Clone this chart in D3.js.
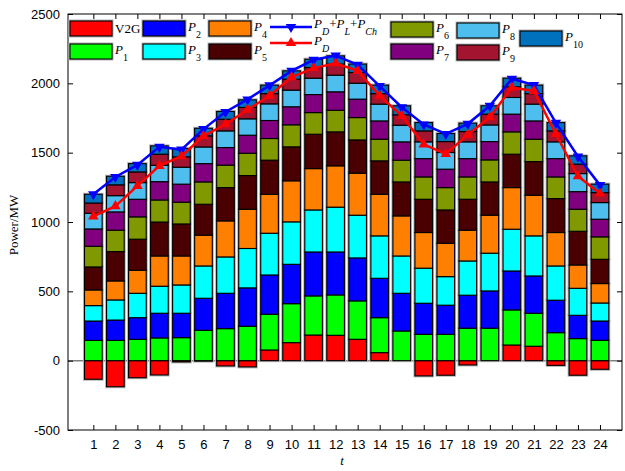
<!DOCTYPE html>
<meta charset="utf-8">
<style>
body { margin: 0; background: #fff; }
svg text { font-family: "Liberation Serif", "Times New Roman", serif; }
.axis text { font-family: "Liberation Sans", Arial, sans-serif; font-size: 13px; fill: #000; }
.axis line { stroke: #000; }
</style>
<svg width="625" height="471"></svg>
<script src="https://d3js.org/d3.v7.min.js"></script>
<script>

var hours = [1, 2, 3, 4, 5, 6, 7, 8, 9, 10, 11, 12, 13, 14, 15, 16, 17, 18, 19, 20, 21, 22, 23, 24];

// V2G exchange (negative = charging)
var v2g = [-134, -188, -123, -103, -9, -3, -38, -45, 77, 130, 185, 183, 154, 58, 0, -110, -105, -31, 0, 113, 104, -34, -105, -62];
var p1  = [146, 146, 154, 164, 166, 219, 231, 248, 258, 281, 282, 291, 277, 252, 214, 190, 190, 234, 234, 253, 238, 202, 159, 147];
var p2  = [140, 147, 156, 178, 176, 231, 255, 277, 283, 284, 317, 310, 310, 284, 272, 224, 210, 238, 269, 281, 269, 234, 168, 139];
var p3  = [111, 145, 176, 195, 204, 233, 262, 284, 301, 306, 303, 323, 308, 306, 269, 253, 206, 247, 272, 301, 289, 247, 195, 130];
var p4  = [113, 137, 166, 218, 209, 222, 260, 283, 281, 296, 298, 298, 303, 300, 289, 257, 241, 222, 274, 300, 293, 241, 168, 140];
var p5  = [166, 212, 224, 245, 231, 223, 240, 243, 246, 245, 248, 245, 240, 241, 245, 240, 240, 223, 240, 241, 243, 245, 243, 175];
var p6  = [149, 154, 161, 159, 157, 161, 162, 161, 156, 159, 156, 156, 161, 156, 157, 161, 161, 161, 159, 161, 161, 156, 159, 162];
var p7  = [125, 132, 127, 132, 130, 132, 127, 130, 130, 130, 130, 133, 133, 132, 132, 132, 133, 132, 132, 128, 132, 132, 127, 127];
var p8  = [113, 117, 120, 118, 122, 120, 120, 118, 120, 120, 118, 120, 115, 121, 120, 121, 120, 121, 120, 120, 121, 121, 130, 120];
var p9  = [74, 78, 77, 80, 75, 80, 84, 82, 74, 79, 77, 80, 77, 76, 75, 79, 79, 74, 78, 77, 76, 79, 68, 72];
var p10 = [63, 62, 60, 60, 60, 55, 56, 55, 61, 60, 60, 59, 61, 61, 65, 60, 58, 61, 60, 62, 61, 60, 60, 61];

var loadTotal = [1200, 1325, 1412, 1542, 1522, 1670, 1793, 1884, 1985, 2090, 2170, 2200, 2133, 1980, 1828, 1703, 1635, 1708, 1838, 2033, 1988, 1715, 1472, 1266];
var loadD     = [1040, 1114, 1260, 1405, 1475, 1620, 1705, 1810, 1910, 2045, 2110, 2145, 2090, 1910, 1765, 1560, 1490, 1630, 1755, 1970, 1945, 1635, 1330, 1205];

var yTicks = [-500, 0, 500, 1000, 1500, 2000, 2500];

var keys = ["V2G", "P1", "P2", "P3", "P4", "P5", "P6", "P7", "P8", "P9", "P10"];
var series = [v2g, p1, p2, p3, p4, p5, p6, p7, p8, p9, p10];
var colors = ["#ff0000", "#00ff00", "#0000ff", "#00ffff", "#ff8000", "#4a0000",
              "#809900", "#800080", "#4dbeee", "#a2142f", "#0072bd"];

var svg = d3.select("svg"),
    x0 = 68, x1 = 622, y0 = 14, y1 = 430;

var x = d3.scaleLinear().domain([-0.15, 25]).range([x0, x1]);
var y = d3.scaleLinear().domain([-500, 2500]).range([y1, y0]);
var color = d3.scaleOrdinal().domain(keys).range(colors);

var rows = hours.map(function(h, i) {
  var r = { hour: h };
  keys.forEach(function(k, j) { r[k] = series[j][i]; });
  return r;
});

var stacked = d3.stack().keys(keys).offset(d3.stackOffsetDiverging)(rows);
var bw = 0.8 * (x(2) - x(1));

// zero line
svg.append("line")
    .attr("x1", x0).attr("x2", x1)
    .attr("y1", y(0)).attr("y2", y(0))
    .attr("stroke", "#808080").attr("stroke-width", 1.5);

// soft gray halo under bars
var halo = svg.append("g");
stacked.forEach(function(s) {
  halo.selectAll(null).data(s.filter(function(d) { return d[1] !== d[0]; })).enter().append("rect")
      .attr("x", function(d) { return x(d.data.hour) - bw / 2; })
      .attr("y", function(d) { return y(d[1]); })
      .attr("width", bw)
      .attr("height", function(d) { return y(d[0]) - y(d[1]); })
      .attr("fill", "none")
      .attr("stroke", "#b4b4b4")
      .attr("stroke-width", 3);
});

svg.append("g").selectAll("g")
    .data(stacked)
    .enter().append("g")
    .attr("fill", function(d) { return color(d.key); })
    .selectAll("rect")
    .data(function(d) { return d.filter(function(e) { return e[1] !== e[0]; }); })
    .enter().append("rect")
    .attr("x", function(d) { return x(d.data.hour) - bw / 2; })
    .attr("y", function(d) { return y(d[1]); })
    .attr("width", bw)
    .attr("height", function(d) { return y(d[0]) - y(d[1]); })
    .attr("stroke", "#000")
    .attr("stroke-width", 1.1);

// load curves
function drawCurve(vals, col, rot) {
  var line = d3.line()
      .x(function(d, i) { return x(hours[i]); })
      .y(function(d) { return y(d); });
  svg.append("path")
      .datum(vals)
      .attr("d", line)
      .attr("fill", "none")
      .attr("stroke", col)
      .attr("stroke-width", 2.5);
  svg.append("g").selectAll("path")
      .data(vals)
      .enter().append("path")
      .attr("d", d3.symbol().type(d3.symbolTriangle).size(48))
      .attr("transform", function(d, i) {
        return "translate(" + x(hours[i]) + "," + y(d) + ") rotate(" + rot + ")";
      })
      .attr("fill", col);
}
drawCurve(loadTotal, "#0000ff", 180);
drawCurve(loadD, "#ff0000", 0);

// axes
svg.append("g").attr("class", "axis")
    .attr("transform", "translate(0," + y1 + ")")
    .call(d3.axisBottom(x).tickValues(hours).tickSizeInner(-5).tickSizeOuter(0).tickPadding(10))
    .select(".domain").remove();
svg.append("g").attr("class", "axis")
    .attr("transform", "translate(0," + y0 + ")")
    .call(d3.axisTop(x).tickValues(hours).tickSizeInner(-5).tickSizeOuter(0).tickFormat(""))
    .select(".domain").remove();
svg.append("g").attr("class", "axis")
    .attr("transform", "translate(" + x0 + ",0)")
    .call(d3.axisLeft(y).tickValues(yTicks).tickSizeInner(-5).tickSizeOuter(0).tickPadding(8)
      .tickFormat(function(d) { return String(d); }))
    .select(".domain").remove();
svg.append("g").attr("class", "axis")
    .attr("transform", "translate(" + x1 + ",0)")
    .call(d3.axisRight(y).tickValues(yTicks).tickSizeInner(-5).tickSizeOuter(0).tickFormat(""))
    .select(".domain").remove();

svg.append("rect")
    .attr("x", x0).attr("y", y0)
    .attr("width", x1 - x0).attr("height", y1 - y0)
    .attr("fill", "none").attr("stroke", "#000").attr("stroke-width", 1);

svg.append("text")
    .attr("transform", "translate(18,225) rotate(-90)")
    .attr("text-anchor", "middle")
    .style("font-size", "13px")
    .text("Power/MW");

svg.append("text")
    .attr("x", 342).attr("y", 465)
    .attr("text-anchor", "middle")
    .style("font-size", "13px").style("font-style", "italic")
    .text("t");

// legend
function label(g, tx, ty, parts) {
  var t = g.append("text").attr("x", tx).attr("y", ty).style("font-size", "13px");
  parts.forEach(function(p) {
    var s = t.append("tspan").text(p.t);
    if (p.it) s.style("font-style", "italic");
    if (p.sub) s.style("font-size", "10px").attr("dy", 7);
    if (p.up) s.attr("dy", -7);
  });
}

var lg = svg.append("g");
var swatches = [
  { key: "V2G", x: 70,  y: 21 }, { key: "P1", x: 70,  y: 44 },
  { key: "P2",  x: 143, y: 21 }, { key: "P3", x: 143, y: 44 },
  { key: "P4",  x: 209, y: 21 }, { key: "P5", x: 209, y: 44 },
  { key: "P6",  x: 391, y: 22 }, { key: "P7", x: 391, y: 44 },
  { key: "P8",  x: 457, y: 23 }, { key: "P9", x: 457, y: 45 },
  { key: "P10", x: 520, y: 31 }
];
swatches.forEach(function(s) {
  lg.append("rect").attr("x", s.x).attr("y", s.y).attr("width", 42).attr("height", 15)
      .attr("fill", "none").attr("stroke", "#b4b4b4").attr("stroke-width", 3);
  lg.append("rect").attr("x", s.x).attr("y", s.y).attr("width", 42).attr("height", 15)
      .attr("fill", color(s.key)).attr("stroke", "#000").attr("stroke-width", 1.1);
  if (s.key === "V2G") {
    label(lg, s.x + 45, s.y + 12, [{ t: "V2G" }]);
  } else {
    label(lg, s.x + 45, s.y + 10, [{ t: "P", it: true }, { t: s.key.slice(1), sub: true }]);
  }
});

[{ col: "#0000ff", yy: 27, rot: 180 }, { col: "#ff0000", yy: 43, rot: 0 }].forEach(function(l) {
  lg.append("line").attr("x1", 270).attr("x2", 312).attr("y1", l.yy).attr("y2", l.yy)
      .attr("stroke", l.col).attr("stroke-width", 2.5);
  lg.append("path").attr("d", d3.symbol().type(d3.symbolTriangle).size(48))
      .attr("transform", "translate(291," + l.yy + ") rotate(" + l.rot + ")")
      .attr("fill", l.col);
});
label(lg, 314, 28, [{ t: "P", it: true }, { t: "D", it: true, sub: true }, { t: "+", up: true },
  { t: "P", it: true }, { t: "L", it: true, sub: true }, { t: "+", up: true },
  { t: "P", it: true }, { t: "Ch", it: true, sub: true }]);
label(lg, 314, 45, [{ t: "P", it: true }, { t: "D", it: true, sub: true }]);

</script>
